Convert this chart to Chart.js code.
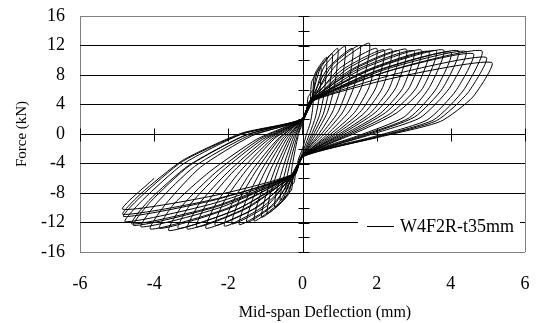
<!DOCTYPE html>
<html>
<head>
<meta charset="utf-8">
<script src="https://cdn.jsdelivr.net/npm/chart.js@4.4.1/dist/chart.umd.min.js"></script>
<style>
  html, body { margin: 0; padding: 0; background: #fff; }
  canvas { display: block; }
</style>
</head>
<body>
<canvas id="chart" width="537" height="323"></canvas>
<script>
// cyclic test: mid-span deflection (mm) and force (kN)
const seriesName = "W4F2R-t35mm";
const xTitle = "Mid-span Deflection (mm)";
const yTitle = "Force (kN)";
const xTicks = [-6, -4, -2, 0, 2, 4, 6];
const yTicks = [-16, -12, -8, -4, 0, 4, 8, 12, 16];

const deflection = [
  0,
  0, 0.12, 0.15, 0.30, 0.27, 0.21, 0.11, 0, -0.12, -0.15, -0.30, -0.27, -0.20, -0.10,
  0, 0.20, 0.25, 0.50, 0.45, 0.35, 0.19, 0, -0.18, -0.23, -0.45, -0.41, -0.29, -0.14,
  0, 0.25, 0.33, 0.65, 0.59, 0.46, 0.25, 0, -0.24, -0.30, -0.60, -0.54, -0.39, -0.19,
  0, 0.25, 0.40, 0.80, 0.72, 0.56, 0.30, 0, -0.25, -0.38, -0.75, -0.68, -0.49, -0.24,
  0, 0.22, 0.48, 0.95, 0.86, 0.67, 0.36, 0, -0.22, -0.48, -0.95, -0.86, -0.62, -0.30,
  0, 0.28, 0.58, 1.15, 1.04, 0.81, 0.44, 0, -0.28, -0.55, -1.10, -0.99, -0.72, -0.35,
  0, 0.22, 0.68, 1.35, 1.22, 0.95, 0.51, 0, -0.22, -0.65, -1.30, -1.17, -0.85, -0.42,
  0, 0.28, 0.78, 1.55, 1.40, 1.09, 0.59, 0, -0.28, -0.75, -1.50, -1.35, -0.98, -0.48,
  0, 0.22, 0.90, 1.80, 1.62, 1.26, 0.68, 0, -0.22, -0.85, -1.70, -1.53, -1.11, -0.54,
  0, 0.28, 1.00, 2.00, 1.80, 1.40, 0.76, 0, -0.28, -0.95, -1.90, -1.71, -1.24, -0.61,
  0, 0.22, 1.10, 2.20, 1.98, 1.54, 0.84, 0, -0.22, -1.05, -2.10, -1.89, -1.37, -0.67,
  0, 0.28, 1.20, 2.40, 2.16, 1.68, 0.91, 0, -0.28, -1.18, -2.35, -2.12, -1.53, -0.75,
  0, 0.22, 1.30, 2.60, 2.34, 1.82, 0.99, 0, -0.22, -1.30, -2.60, -2.34, -1.69, -0.83,
  0, 0.28, 1.40, 2.80, 2.52, 1.96, 1.06, 0, -0.28, -1.43, -2.85, -2.57, -1.85, -0.91,
  0, 0.22, 1.50, 3.00, 2.70, 2.10, 1.14, 0, -0.22, -1.55, -3.10, -2.79, -2.02, -0.99,
  0, 0.28, 1.60, 3.20, 2.88, 2.24, 1.22, 0, -0.28, -1.68, -3.35, -3.02, -2.18, -1.07,
  0, 0.22, 1.70, 3.40, 3.06, 2.38, 1.29, 0, -0.22, -1.80, -3.60, -3.24, -2.34, -1.15,
  0, 0.28, 1.80, 3.60, 3.24, 2.52, 1.37, 0, -0.28, -1.93, -3.85, -3.47, -2.50, -1.23,
  0, 0.22, 1.90, 3.80, 3.42, 2.74, 1.52, 0, -0.22, -2.05, -4.10, -3.69, -2.75, -1.39,
  0, 0.28, 2.00, 4.00, 3.60, 2.88, 1.60, 0, -0.28, -2.18, -4.35, -3.92, -2.91, -1.48,
  0, 0.22, 2.10, 4.20, 3.78, 3.02, 1.68, 0, -0.22, -2.28, -4.55, -4.10, -3.05, -1.55,
  0, 0.28, 2.20, 4.40, 3.96, 3.17, 1.76, 0, -0.28, -2.30, -4.60, -4.14, -3.08, -1.56,
  0, 0.22, 2.30, 4.60, 4.14, 3.36, 1.89, 0, -0.22, -2.39, -4.78, -4.30, -3.20, -1.63,
  0, 0.28, 2.42, 4.83, 4.35, 3.53, 1.98, 0, -0.28, -2.41, -4.82, -4.34, -3.23, -1.64,
  0, 0.22, 2.48, 4.95, 4.46, 3.61, 2.03, 0, -0.22, -2.42, -4.84, -4.36, -3.24, -1.65,
  0, 0.28, 2.55, 5.10, 4.59, 3.72, 2.09, 0, -0.28, -2.43, -4.85, -4.00
];

const force = [
  0,
  1.2, 3.3, 5.0, 6.0, 3.3, 1.5, 0.0, -2.0, -3.6, -4.8, -5.5, -4.1, -2.2, 0.1,
  1.5, 4.0, 7.1, 9.0, 5.0, 2.3, 0.0, -2.5, -5.0, -6.6, -7.5, -5.6, -3.0, -0.2,
  1.8, 4.3, 8.1, 10.4, 5.7, 2.6, 0.0, -2.8, -5.3, -7.6, -9.0, -6.7, -3.6, -0.3,
  2.0, 4.5, 8.5, 10.9, 6.0, 2.7, 0.0, -3.0, -5.5, -8.2, -9.9, -7.3, -4.0, -0.4,
  1.9, 4.4, 8.9, 11.6, 6.4, 2.9, 0.0, -3.1, -5.6, -8.8, -10.8, -8.0, -4.3, -0.5,
  2.0, 4.5, 9.1, 11.9, 6.5, 3.0, 0.0, -3.0, -5.5, -9.1, -11.3, -8.4, -4.5, -0.5,
  2.1, 4.6, 8.9, 11.6, 6.4, 2.9, 0.0, -2.9, -5.4, -9.4, -11.8, -8.7, -4.7, -0.6,
  2.0, 4.5, 9.2, 12.0, 6.6, 3.0, 0.0, -3.0, -5.5, -9.5, -12.0, -8.9, -4.8, -0.6,
  1.9, 4.4, 9.3, 12.3, 6.8, 3.1, 0.0, -3.1, -5.6, -9.8, -12.3, -9.1, -4.9, -0.6,
  2.0, 4.5, 8.9, 11.6, 6.4, 2.9, 0.0, -3.0, -5.5, -9.7, -12.2, -9.0, -4.9, -0.6,
  2.1, 4.6, 8.8, 11.4, 6.3, 2.9, 0.0, -2.9, -5.4, -9.8, -12.5, -9.3, -5.0, -0.7,
  2.0, 4.5, 8.8, 11.5, 6.3, 2.9, 0.0, -3.0, -5.5, -9.8, -12.4, -9.2, -5.0, -0.6,
  1.9, 4.4, 8.7, 11.3, 6.2, 2.8, 0.0, -3.1, -5.6, -10.1, -12.8, -9.5, -5.1, -0.7,
  2.0, 4.5, 8.8, 11.5, 6.3, 2.9, 0.0, -3.0, -5.5, -9.9, -12.6, -9.3, -5.0, -0.7,
  2.1, 4.6, 8.8, 11.3, 6.2, 2.8, 0.0, -2.9, -5.4, -10.1, -12.9, -9.5, -5.2, -0.7,
  2.0, 4.5, 8.8, 11.4, 6.3, 2.9, 0.0, -3.0, -5.5, -10.0, -12.8, -9.5, -5.1, -0.7,
  1.9, 4.4, 8.6, 11.2, 6.2, 2.8, 0.0, -3.1, -5.6, -10.3, -13.1, -9.7, -5.2, -0.7,
  2.0, 4.5, 8.7, 11.3, 6.2, 2.8, 0.0, -3.0, -5.5, -10.0, -12.8, -9.5, -5.1, -0.7,
  2.1, 4.6, 8.8, 11.4, 6.3, 2.3, -0.2, -2.9, -5.4, -10.1, -12.9, -9.5, -4.5, -0.3,
  2.0, 4.5, 8.6, 11.1, 6.1, 2.2, -0.2, -3.0, -5.5, -9.9, -12.6, -9.3, -4.4, -0.3,
  1.9, 4.4, 8.7, 11.3, 6.2, 2.3, -0.2, -3.1, -5.6, -9.8, -12.4, -9.2, -4.3, -0.2,
  2.0, 4.5, 8.7, 11.2, 6.2, 2.2, -0.2, -3.0, -5.5, -9.7, -12.2, -9.0, -4.3, -0.2,
  2.1, 4.6, 8.5, 10.9, 5.9, 1.9, -0.4, -2.9, -5.4, -9.4, -11.9, -8.9, -4.0, 0.0,
  2.0, 4.5, 8.7, 11.3, 6.0, 1.9, -0.4, -3.0, -5.5, -9.0, -11.2, -8.4, -3.7, 0.0,
  1.9, 4.4, 8.1, 10.4, 5.6, 1.8, -0.4, -3.1, -5.6, -8.9, -10.9, -8.1, -3.6, 0.1,
  2.0, 4.5, 7.7, 9.7, 5.0, 1.7, -0.4, -3.0, -5.5, -8.4, -10.2, -6.0
];

const points = deflection.map((x, i) => ({ x: x, y: force[i] }));

const serif = "'Liberation Serif', 'Times New Roman', serif";

// zero axes with cross ticks, x title and the boxed legend
const extras = {
  id: "extras",
  beforeDatasetsDraw(chart) {
    const ctx = chart.ctx;
    const xs = chart.scales.x, ys = chart.scales.y;
    const x0 = Math.round(xs.getPixelForValue(0)) + 0.5;
    const y0 = Math.round(ys.getPixelForValue(0)) + 0.5;
    ctx.save();
    ctx.strokeStyle = "#000";
    ctx.lineWidth = 1;
    ctx.beginPath();
    ctx.moveTo(x0, chart.chartArea.top);
    ctx.lineTo(x0, chart.chartArea.bottom);
    for (let v = -16; v <= 16; v += 2) {
      const py = Math.round(ys.getPixelForValue(v)) + 0.5;
      ctx.moveTo(x0 - 5, py);
      ctx.lineTo(x0 + 6, py);
    }
    for (const v of xTicks) {
      const px = Math.round(xs.getPixelForValue(v)) + 0.5;
      ctx.moveTo(px, y0 - 6);
      ctx.lineTo(px, y0 + 7);
    }
    ctx.stroke();
    ctx.restore();
  },
  afterDraw(chart) {
    const ctx = chart.ctx;
    ctx.save();
    // legend box
    ctx.fillStyle = "#fff";
    ctx.fillRect(358, 212, 162, 29);
    ctx.strokeStyle = "#000";
    ctx.lineWidth = 1;
    ctx.beginPath();
    ctx.moveTo(367, 226.5);
    ctx.lineTo(394, 226.5);
    ctx.stroke();
    ctx.fillStyle = "#000";
    ctx.font = "18px " + serif;
    ctx.textBaseline = "middle";
    ctx.textAlign = "left";
    ctx.fillText(seriesName, 400, 227);
    // x axis title
    ctx.font = "16px " + serif;
    ctx.textAlign = "center";
    ctx.fillText(xTitle, 325, 313);
    ctx.restore();
  }
};

new Chart(document.getElementById("chart"), {
  type: "scatter",
  data: {
    datasets: [{
      label: seriesName,
      data: points,
      showLine: true,
      borderColor: "#000",
      borderWidth: 1,
      pointRadius: 0,
      tension: 0.2,
      fill: false
    }]
  },
  options: {
    responsive: false,
    animation: false,
    devicePixelRatio: 1,
    layout: { padding: { top: 16, right: 12, left: 0, bottom: 0 } },
    plugins: {
      legend: { display: false },
      tooltip: { enabled: false }
    },
    scales: {
      x: {
        type: "linear",
        min: -6,
        max: 6,
        afterFit: s => { s.height = 71; s.paddingLeft = 0; s.paddingRight = 0; },
        afterBuildTicks: s => { s.ticks = xTicks.map(v => ({ value: v })); },
        ticks: { color: "#000", padding: 21, font: { family: serif, size: 18 } },
        grid: {
          drawTicks: false,
          color: c => (c.tick && Math.abs(c.tick.value) === 6) ? "#808080" : "rgba(0,0,0,0)"
        },
        border: { display: false }
      },
      y: {
        type: "linear",
        min: -16,
        max: 16,
        afterFit: s => { s.width = 80; s.paddingTop = 0; s.paddingBottom = 0; },
        afterBuildTicks: s => { s.ticks = yTicks.map(v => ({ value: v })); },
        ticks: { color: "#000", padding: 15, font: { family: serif, size: 18 } },
        grid: {
          drawTicks: false,
          color: c => (c.tick && Math.abs(c.tick.value) === 16) ? "#808080" : "#000"
        },
        border: { display: false },
        title: {
          display: true,
          text: yTitle,
          color: "#000",
          font: { family: serif, size: 15 },
          padding: { top: 13, bottom: 0 }
        }
      }
    }
  },
  plugins: [extras]
});
</script>
</body>
</html>
